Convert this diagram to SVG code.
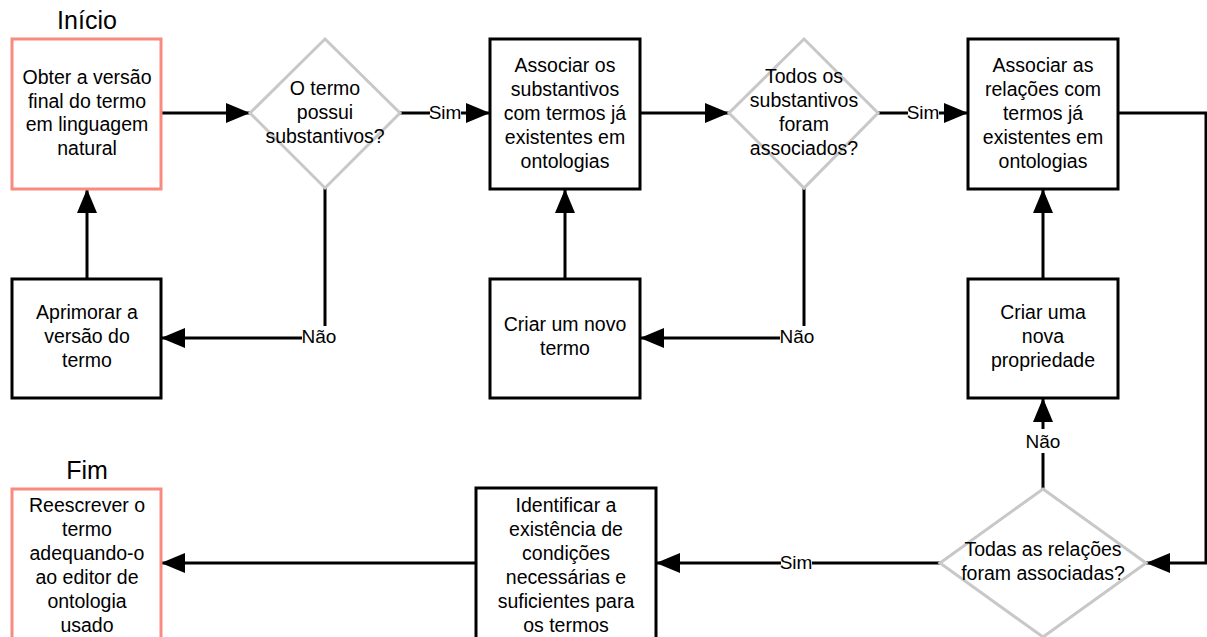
<svg xmlns="http://www.w3.org/2000/svg" width="1207" height="637" viewBox="0 0 1207 637">
<defs>
<marker id="arr" viewBox="0 0 24 20" refX="24" refY="10" markerWidth="24" markerHeight="20" markerUnits="userSpaceOnUse" orient="auto">
<path d="M0,0 L24,10 L0,20 Z" fill="#000"/>
</marker>
<style>
.box{fill:#fff;stroke:#000;stroke-width:3}
.term{fill:#fff;stroke:#f88a80;stroke-width:3}
.dia{fill:#fff;stroke:#c8c8c8;stroke-width:3}
.t{font-family:"Liberation Sans",Arial,sans-serif;font-size:19.5px;fill:#000;text-anchor:middle}
.title{font-family:"Liberation Sans",Arial,sans-serif;font-size:25px;fill:#000;text-anchor:middle}
.c{fill:none;stroke:#000;stroke-width:3}
.lbl{font-family:"Liberation Sans",Arial,sans-serif;font-size:19px;fill:#000;text-anchor:middle}
.bg{fill:#fff}
</style>
</defs>
<rect width="1207" height="637" fill="#fff"/>

<g id="connectors">
<path class="c" d="M161,113 L250,113" marker-end="url(#arr)"/>
<path class="c" d="M400,113 L490,113" marker-end="url(#arr)"/>
<path class="c" d="M325,188 L325,338 L161,338" marker-end="url(#arr)"/>
<path class="c" d="M87,279 L87,189" marker-end="url(#arr)"/>
<path class="c" d="M640,113 L729,113" marker-end="url(#arr)"/>
<path class="c" d="M878,113 L968,113" marker-end="url(#arr)"/>
<path class="c" d="M804,188 L804,338 L640,338" marker-end="url(#arr)"/>
<path class="c" d="M565,279 L565,189" marker-end="url(#arr)"/>
<path class="c" d="M1043,279 L1043,189" marker-end="url(#arr)"/>
<path class="c" d="M1043,489 L1043,398" marker-end="url(#arr)"/>
<path class="c" d="M1118,113 L1206,113 L1206,563 L1146,563" marker-end="url(#arr)"/>
<path class="c" d="M940,563 L656,563" marker-end="url(#arr)"/>
<path class="c" d="M476,563 L161,563" marker-end="url(#arr)"/>
<rect class="bg" x="430" y="101" width="31" height="22"/>
<text class="lbl" x="445" y="119">Sim</text>
<rect class="bg" x="908" y="101" width="31" height="22"/>
<text class="lbl" x="923" y="119">Sim</text>
<rect class="bg" x="302" y="326" width="34" height="22"/>
<text class="lbl" x="319" y="343">Não</text>
<rect class="bg" x="780" y="326" width="34" height="22"/>
<text class="lbl" x="797" y="343">Não</text>
<rect class="bg" x="1025" y="429" width="36" height="24"/>
<text class="lbl" x="1043" y="448">Não</text>
<rect class="bg" x="781" y="551" width="31" height="22"/>
<text class="lbl" x="796" y="569">Sim</text>
</g>

<text class="title" x="87" y="29">Início</text>
<text class="title" x="87" y="479">Fim</text>

<g id="obter">
<rect class="term" x="12" y="39" width="149" height="150"/>
<text class="t" x="87" y="84">Obter a versão</text>
<text class="t" x="87" y="108">final do termo</text>
<text class="t" x="87" y="131">em linguagem</text>
<text class="t" x="87" y="155">natural</text>
</g>

<g id="dec1">
<polygon class="dia" points="325,39 400,113 325,188 250,113"/>
<text class="t" x="325" y="95">O termo</text>
<text class="t" x="325" y="119">possui</text>
<text class="t" x="325" y="143">substantivos?</text>
</g>

<g id="assoc-subst">
<rect class="box" x="490" y="39" width="150" height="150"/>
<text class="t" x="565" y="72">Associar os</text>
<text class="t" x="565" y="96">substantivos</text>
<text class="t" x="565" y="120">com termos já</text>
<text class="t" x="565" y="144">existentes em</text>
<text class="t" x="565" y="168">ontologias</text>
</g>

<g id="dec2">
<polygon class="dia" points="804,39 878,113 804,188 729,113"/>
<text class="t" x="804" y="83">Todos os</text>
<text class="t" x="804" y="107">substantivos</text>
<text class="t" x="804" y="131">foram</text>
<text class="t" x="804" y="155">associados?</text>
</g>

<g id="assoc-rel">
<rect class="box" x="968" y="39" width="150" height="150"/>
<text class="t" x="1043" y="72">Associar as</text>
<text class="t" x="1043" y="96">relações com</text>
<text class="t" x="1043" y="120">termos já</text>
<text class="t" x="1043" y="144">existentes em</text>
<text class="t" x="1043" y="168">ontologias</text>
</g>

<g id="aprimorar">
<rect class="box" x="12" y="279" width="149" height="119"/>
<text class="t" x="87" y="319">Aprimorar a</text>
<text class="t" x="87" y="343">versão do</text>
<text class="t" x="87" y="367">termo</text>
</g>

<g id="criar-termo">
<rect class="box" x="490" y="279" width="150" height="119"/>
<text class="t" x="565" y="331">Criar um novo</text>
<text class="t" x="565" y="355">termo</text>
</g>

<g id="criar-prop">
<rect class="box" x="968" y="279" width="150" height="119"/>
<text class="t" x="1043" y="319">Criar uma</text>
<text class="t" x="1043" y="343">nova</text>
<text class="t" x="1043" y="367">propriedade</text>
</g>

<g id="dec3">
<polygon class="dia" points="1043,489 1146,563 1043,637 940,563"/>
<text class="t" x="1043" y="556">Todas as relações</text>
<text class="t" x="1043" y="580">foram associadas?</text>
</g>

<g id="identificar">
<rect class="box" x="476" y="488" width="180" height="160"/>
<text class="t" x="566" y="512">Identificar a</text>
<text class="t" x="566" y="536">existência de</text>
<text class="t" x="566" y="560">condições</text>
<text class="t" x="566" y="584">necessárias e</text>
<text class="t" x="566" y="608">suficientes para</text>
<text class="t" x="566" y="632">os termos</text>
</g>

<g id="reescrever">
<rect class="term" x="12" y="489" width="149" height="160"/>
<text class="t" x="87" y="512">Reescrever o</text>
<text class="t" x="87" y="536">termo</text>
<text class="t" x="87" y="560">adequando-o</text>
<text class="t" x="87" y="584">ao editor de</text>
<text class="t" x="87" y="608">ontologia</text>
<text class="t" x="87" y="632">usado</text>
</g>
</svg>
